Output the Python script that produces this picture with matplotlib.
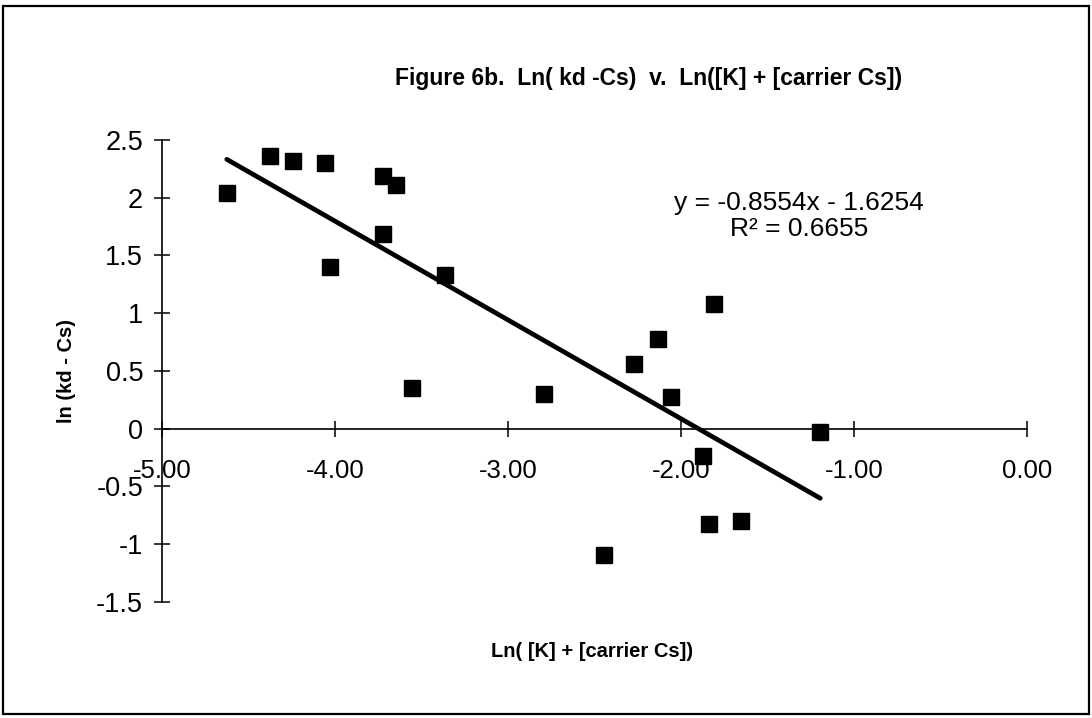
import matplotlib

matplotlib.use("Agg")
import matplotlib.pyplot as plt  # noqa: E402
import numpy as np  # noqa: E402
from matplotlib.patches import Rectangle  # noqa: E402
from matplotlib.ticker import FuncFormatter  # noqa: E402

# values
LN_K_CS = [-4.627, -4.377, -4.242, -4.058, -3.721, -3.648, -3.721, -4.030, -3.364, -3.553,
           -2.795, -1.806, -2.133, -2.274, -2.056, -1.194, -1.873, -1.840, -1.651, -2.444]
LN_KD = [2.04, 2.36, 2.317, 2.303, 2.184, 2.113, 1.688, 1.399, 1.327, 0.355,
         0.303, 1.076, 0.776, 0.557, 0.274, -0.03, -0.24, -0.823, -0.80, -1.097]
SLOPE, INTERCEPT, R2 = -0.8554, -1.6254, 0.6655
XTICKS = [-5, -4, -3, -2, -1, 0]
YTICKS = [-1.5, -1, -0.5, 0, 0.5, 1, 1.5, 2, 2.5]

plt.rcParams["font.family"] = ["Liberation Sans", "DejaVu Sans"]

W, H = 1092, 718
fig = plt.figure(figsize=(W / 100, H / 100), dpi=100)
fig.patch.set_facecolor("white")
fig.patches.append(
    Rectangle((3 / W, 1 - 714 / H), 1086 / W, 708 / H, transform=fig.transFigure,
              fill=False, lw=1.6, ec="black")
)

ax = fig.add_axes([162.3 / W, 1 - 601.7 / H, 864.4 / W, 461.7 / H])
ax.set_facecolor("none")
ax.set_xlim(-5, 0)
ax.set_ylim(-1.5, 2.5)
for s in ("top", "right"):
    ax.spines[s].set_visible(False)
ax.spines["bottom"].set_position(("data", 0))
ax.spines["left"].set_linewidth(1.2)
ax.spines["bottom"].set_linewidth(1.2)

ax.set_xticks(XTICKS)
ax.set_yticks(YTICKS)
ax.xaxis.set_major_formatter(FuncFormatter(lambda v, p: f"{v:.2f}"))
ax.yaxis.set_major_formatter(FuncFormatter(lambda v, p: f"{v:g}"))
ax.tick_params(axis="x", direction="inout", length=11.5, width=1.1, pad=16, labelsize=18.5)
ax.tick_params(axis="y", direction="inout", length=11.5, width=1.1, pad=8, labelsize=19.5)

ax.plot(LN_K_CS, LN_KD, ls="none", marker="s", ms=11, color="black", zorder=3)

xs = np.array([min(LN_K_CS), max(LN_K_CS)])
ax.plot(xs, SLOPE * xs + INTERCEPT, color="black", lw=3.4, solid_capstyle="round", zorder=2)

ax.text(-1.315, 1.95, f"y = {SLOPE}x - {abs(INTERCEPT)}", ha="center", va="center", fontsize=19)
ax.text(-1.315, 1.726, f"R² = {R2}", ha="center", va="center", fontsize=19)

fig.text(649 / W, 1 - 78 / H, "Figure 6b.  Ln( kd -Cs)  v.  Ln([K] + [carrier Cs])",
         ha="center", va="center", fontsize=16.5, fontweight="bold")
fig.text(591.7 / W, 1 - 651.7 / H, "Ln( [K] + [carrier Cs])",
         ha="center", va="center", fontsize=14.5, fontweight="bold")
fig.text(67 / W, 1 - 371 / H, "ln (kd - Cs)", rotation=90,
         ha="center", va="center", fontsize=14.5, fontweight="bold")

fig.savefig("out.png", dpi=100)
